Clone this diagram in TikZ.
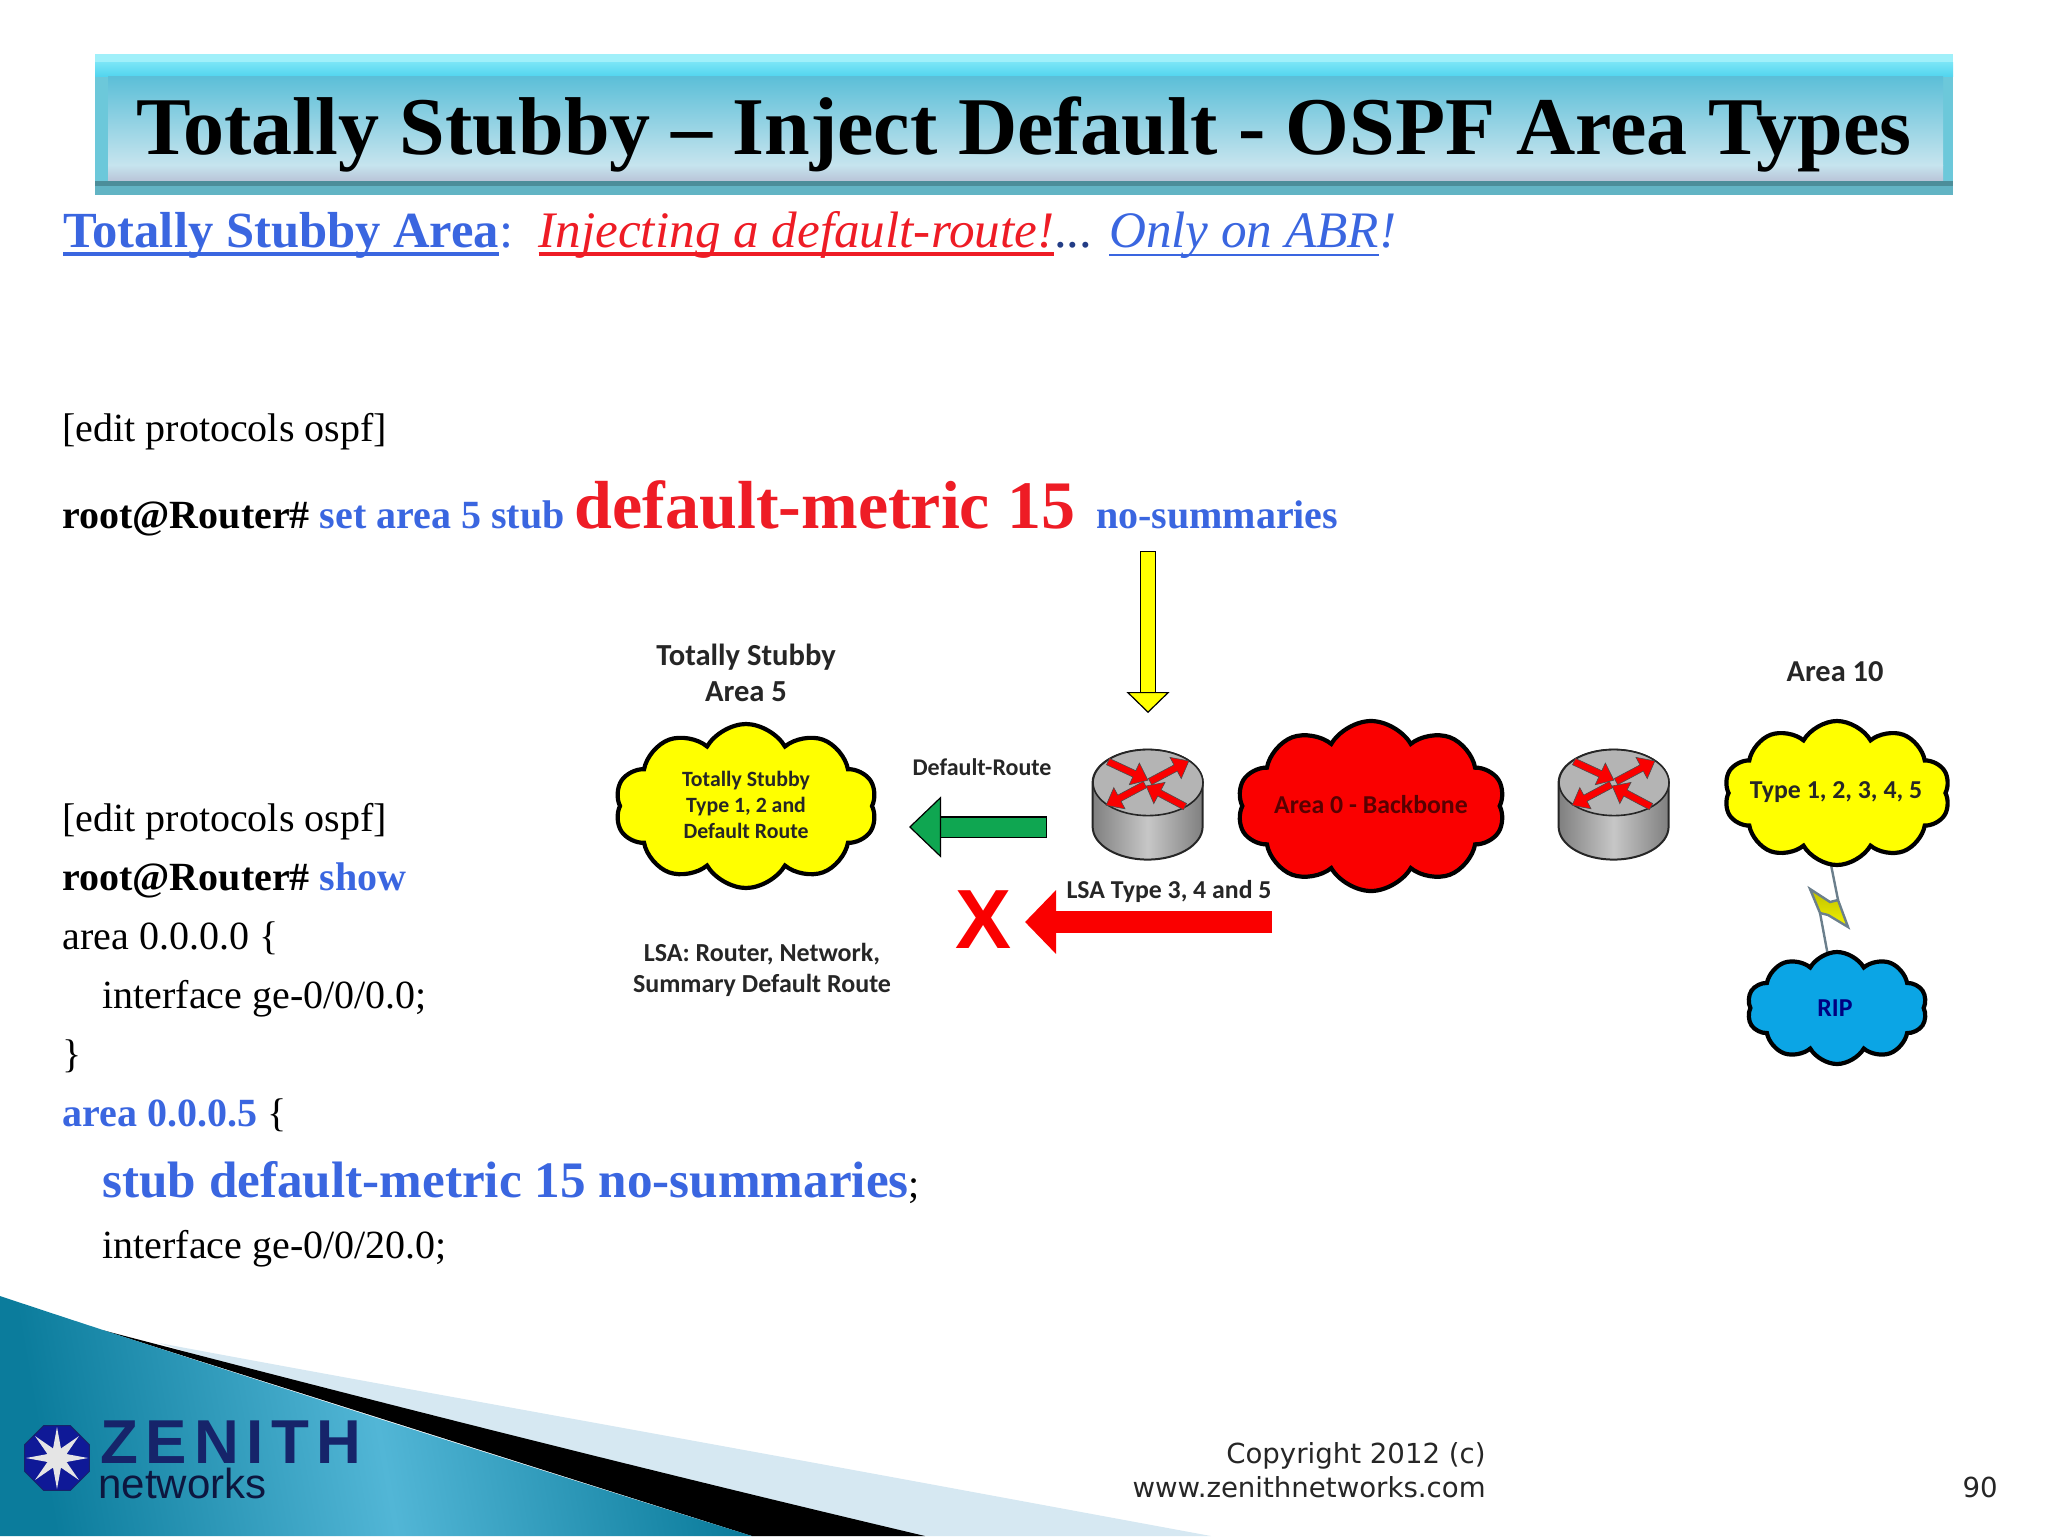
\documentclass[tikz,border=0pt]{standalone}
\usepackage{fontspec}
\setmainfont{Liberation Serif}
\newfontfamily\calibrifont{Carlito}
\newfontfamily\footfont{DejaVu Sans}
\newfontfamily\logofont[LetterSpace=12]{Liberation Sans}
\newfontfamily\logothin{Liberation Sans}
\usetikzlibrary{arrows.meta, calc, shapes.geometric, shapes.symbols}

\definecolor{cmdblue}{HTML}{3A66E0}
\definecolor{cmdred}{HTML}{EE1C25}
\definecolor{cloudyellow}{HTML}{FFFF00}
\definecolor{cloudred}{HTML}{FA0000}
\definecolor{cloudblue}{HTML}{0BA5E5}
\definecolor{arrowgreen}{HTML}{0FA651}
\definecolor{routergray}{HTML}{B4B4B4}
\definecolor{linkgray}{HTML}{6B7F8C}
\definecolor{swooshdark}{HTML}{0B7C9C}
\definecolor{swooshlight}{HTML}{52B6D6}
\definecolor{swooshpale}{HTML}{D6E8F2}
\definecolor{logonavy}{HTML}{16246A}

\newsavebox{\ulbox}
\newcommand{\ulinetext}[2][2pt]{\sbox{\ulbox}{#2}\rlap{\usebox{\ulbox}}\rule[-4.5pt]{\wd\ulbox}{#1}}

\tikzset{
  textline/.style={anchor=base west, inner sep=0pt, font=\fontsize{20}{24}\selectfont},
  diagramlabel/.style={align=center, inner sep=0pt, font=\calibrifont\bfseries\fontsize{12.9}{15.5}\selectfont, text=black!85},
  footlabel/.style={inner sep=0pt, font=\footfont\fontsize{13.8}{17}\selectfont, text=black!85},
  area/.style={cloud, cloud puffs=10, cloud puff arc=120, cloud ignores aspect, draw=black, line width=2.1pt, inner sep=0pt, align=center},
  routernode/.style={inner sep=0pt, minimum width=55pt, minimum height=55pt},
  routerarrow/.style={fill=cloudred, draw=black!70, line width=0.3pt},
  linkline/.style={draw=linkgray, line width=1.2pt},
  yellowarrow/.style={double=cloudyellow, draw=black, line width=0.6pt, double distance=7pt, line cap=rect,
    -{Triangle[length=10.5pt, width=21.5pt, fill=cloudyellow, line width=0.6pt]}},
  greenarrow/.style={double=arrowgreen, draw=black, line width=0.6pt, double distance=9.5pt, line cap=rect,
    -{Triangle[length=16pt, width=30.5pt, fill=arrowgreen, line width=0.6pt]}},
  redarrow/.style={draw=cloudred, line width=11pt, -{Triangle[length=15.5pt, width=31pt]}}
}

% router body, top face and its four arrows
\newcommand{\routerhead}[1]{
  \draw[line width=1pt, draw=black!85, left color=black!50, right color=black!50, middle color=black!22]
    ($(#1.north west)+(0,33)$) -- ++(0,44) arc (180:360:27.5pt and 16.5pt) -- ++(0,-44) arc (0:180:27.5pt and 16.5pt) -- cycle;
  \draw[line width=0.8pt, draw=black!85, fill=routergray] ($(#1.north)+(0,33)$) ellipse (27.5pt and 16.5pt);
  \foreach \ang/\px/\py in {-25/-40/-21, 28/2/-1, 208/-3/2, 152/37/24} {
    \begin{scope}[shift={($(#1.north)+(\px,33+\py)$)}, rotate=\ang]
      \draw[routerarrow] (0,-3.5) -- (29,-3.5) -- (29,-12) -- (44,0) -- (29,12) -- (29,3.5) -- (0,3.5) -- cycle;
    \end{scope}
  }
}

\begin{document}
\begin{tikzpicture}[x=0.5pt, y=-0.5pt]
\useasboundingbox (0,0) rectangle (2048,1536);

% Bottom swoosh
\fill[swooshpale] (159,1343) .. controls (383,1385) and (638,1430) .. (1000,1497) -- (1211,1536) -- (752,1536) -- cycle;
\fill[black] (102,1330) .. controls (255,1370) and (574,1453) .. (925,1536) -- (752,1536) -- cycle;
\shade[left color=swooshdark, right color=swooshdark, middle color=swooshlight, shading angle=100]
  (0,1296) .. controls (102,1330) and (300,1395) .. (752,1536) -- (0,1536) -- cycle;

% Title banner
\fill[fill={rgb,255:red,108;green,200;blue,218}] (95,54) rectangle (1953,195);
\fill[fill={rgb,255:red,160;green,240;blue,250}] (95,54) rectangle (1953,63);
\shade[top color={rgb,255:red,120;green,228;blue,246}, bottom color={rgb,255:red,80;green,212;blue,238}] (95,63) rectangle (1953,77);
\shade[top color={rgb,255:red,92;green,191;blue,216}, bottom color={rgb,255:red,198;green,228;blue,238}] (108,77) rectangle (1943,165);
\shade[top color={rgb,255:red,198;green,228;blue,238}, bottom color={rgb,255:red,185;green,196;blue,216}] (108,165) rectangle (1943,181);
\fill[fill={rgb,255:red,76;green,142;blue,154}] (95,181) rectangle (1953,186);
\fill[fill={rgb,255:red,98;green,180;blue,196}] (95,186) rectangle (1953,195);
\node (title) [anchor=base, inner sep=0pt, font=\bfseries\fontsize{41}{48}\selectfont] at (1024,155) {Totally Stubby -- Inject Default - OSPF Area Types};

% Heading
\node (heading) [textline, font=\fontsize{25.3}{30}\selectfont] at (63,247)
  {\textcolor{cmdblue}{\bfseries\ulinetext{Totally Stubby Area}}\textcolor{cmdblue}{:}\ \ \textcolor{cmdred}{\itshape\fontsize{25.6}{30}\selectfont\ulinetext{Injecting a default-route!}}\textcolor{cmdblue!60!black}{...} \textcolor{cmdblue}{\itshape\fontsize{25.6}{30}\selectfont\ulinetext[1pt]{Only on ABR}!}};

% First command
\node (editA) [textline] at (62,441) {[edit protocols ospf]};
\node (setline) [textline] at (62,528)
  {\bfseries root@Router\# \textcolor{cmdblue}{set area 5 stub} \textcolor{cmdred}{\fontsize{34}{40}\selectfont default-metric 15 }\hspace{2pt}\textcolor{cmdblue}{no-summaries}};

% Second command
\node (editB) [textline] at (62,831) {[edit protocols ospf]};
\node (showline) [textline] at (62,890) {\bfseries root@Router\# \textcolor{cmdblue}{show}};
\node (areazero) [textline] at (62,949) {area 0.0.0.0 \{};
\node (ifzero) [textline] at (102,1008) {interface ge-0/0/0.0;};
\node (closezero) [textline] at (62,1067) {\}};
\node (areafive) [textline] at (62,1126) {\textcolor{cmdblue}{\bfseries area 0.0.0.5} \{};
\node (stubline) [textline] at (102,1197) {\textcolor{cmdblue}{\bfseries\fontsize{25.6}{30}\selectfont stub default-metric 15 no-summaries};};
\node (iftwenty) [textline] at (102,1258) {interface ge-0/0/20.0;};

% Links behind the clouds
\coordinate (linktop) at (1830,860);
\coordinate (boltup) at (1838,900);
\coordinate (boltdown) at (1820,913);
\coordinate (linkbot) at (1828,956);
\draw[linkline] (linktop) -- (boltup);
\draw[linkline] (boltdown) -- (linkbot);
\draw[linkline, top color=cloudyellow!75!black, bottom color=cloudyellow!95!black] (1810,889) -- (1830,902) -- (boltup) -- (1848,927) -- (1828,915) -- (boltdown) -- cycle;

% Clouds
\node (cloudstub) [area, fill=cloudyellow, minimum width=131pt, minimum height=82pt] at (746,806) {};
\node (cloudzero) [area, fill=cloudred, minimum width=134pt, minimum height=85pt] at (1371,806) {};
\node (cloudten) [area, fill=cloudyellow, minimum width=113pt, minimum height=72pt] at (1837,793) {};
\node (cloudrip) [area, fill=cloudblue, minimum width=90pt, minimum height=56pt] at (1837,1008) {};

\node (stubtext) [diagramlabel, font=\calibrifont\bfseries\fontsize{10.9}{13}\selectfont] at (746,805) {Totally Stubby\\Type 1, 2 and\\Default Route};
\node (zerotext) [diagramlabel, text=black!65!red] at (1371,805) {Area 0 - Backbone};
\node (tentext) [diagramlabel] at (1836,792) {Type 1, 2, 3, 4, 5};
\node (riptext) [diagramlabel, text=blue!50!black] at (1835,1008) {RIP};

% Routers
\node (routerA) [routernode] at (1148,805) {};
\routerhead{routerA}
\node (routerB) [routernode] at (1614,805) {};
\routerhead{routerB}

% Labels
\node (stublabel) [diagramlabel, font=\calibrifont\bfseries\fontsize{15.3}{18}\selectfont] at (746,673) {Totally Stubby\\Area 5};
\node (tenlabel) [diagramlabel, font=\calibrifont\bfseries\fontsize{15.2}{18}\selectfont] at (1835,672) {Area 10};
\node (defaultlabel) [diagramlabel, font=\calibrifont\bfseries\fontsize{12}{15}\selectfont] at (982,767) {Default-Route};
\node (lsalabel) [diagramlabel] at (1169,891) {LSA Type 3, 4 and 5};
\node (stublsa) [diagramlabel, font=\calibrifont\bfseries\fontsize{13}{15.5}\selectfont] at (762,970) {LSA: Router, Network,\\Summary Default Route};
\node (blocked) [inner sep=0pt, text=cloudred, font=\logothin\bfseries\fontsize{42}{46}\selectfont] at (983,920) {X};

% Arrows
\coordinate (metricdrop) at (1148,559);
\coordinate (metrictip) at (1148,713);
\draw[yellowarrow] (metricdrop) -- (metrictip);
\coordinate (greenstart) at (1036,827);
\coordinate (greentip) at (909,827);
\draw[greenarrow] (greenstart) -- (greentip);
\coordinate (redstart) at (1272,922);
\coordinate (redtip) at (1025,922);
\draw[redarrow] (redstart) -- (redtip);

% Logo
\node (logooct) [regular polygon, regular polygon sides=8, fill=logonavy!70!blue, draw=logonavy, line width=0.5pt, minimum size=35pt, inner sep=0pt] at (57,1458) {};
\node (logostar) [star, star points=8, star point ratio=3, fill=black!10, inner sep=0pt, minimum size=31pt] at (logooct) {};
\node (logozenith) [anchor=base west, inner sep=0pt, text=logonavy, font=\logofont\bfseries\fontsize{31}{34}\selectfont] at (100,1463) {ZENITH};
\node (logonet) [anchor=base west, inner sep=0pt, text=logonavy!60!black, font=\logothin\fontsize{21}{22}\selectfont] at (98,1498) {networks};

% Footer
\node (copyline) [footlabel, anchor=base east] at (1486,1463) {Copyright 2012 (c)};
\node (webline) [footlabel, anchor=base east] at (1486,1497) {www.zenithnetworks.com};
\node (pagenum) [footlabel, anchor=base east] at (1998,1497) {90};
\end{tikzpicture}
\end{document}
